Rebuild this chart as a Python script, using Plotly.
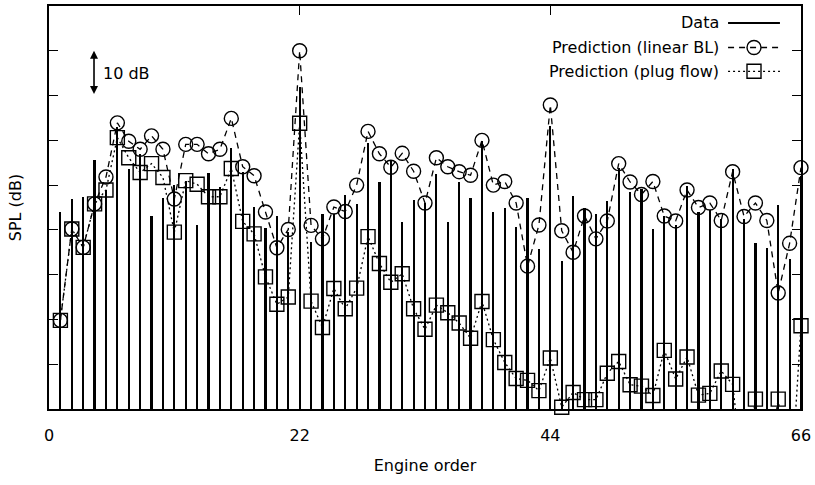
import plotly.graph_objects as go

# Engine orders 1..66
orders = list(range(1, 67))

# Measured SPL per engine order (dB, relative to bottom of axis)
data_spl = [
    43.9, 46.9, 47.4, 55.6, 49.0, 63.0, 53.6, 57.0, 43.2, 47.2,
    50.0, 51.0, 41.0, 52.6, 49.5, 58.2, 53.0, 45.2, 40.5, 43.0,
    39.5, 72.0, 37.2, 43.5, 43.5, 47.9, 45.8, 59.5, 50.6, 55.4,
    41.7, 46.7, 46.0, 52.4, 41.7, 50.7, 47.2, 59.8, 44.0, 45.0,
    40.7, 47.1, 35.7, 63.1, 33.0, 47.6, 44.9, 43.5, 46.4, 53.9,
    48.5, 49.2, 40.2, 43.1, 41.0, 49.8, 44.0, 44.5, 42.5, 53.5,
    42.5, 37.0, 36.0, 45.5, 33.6, 52.0,
]

# Prediction with linear boundary layer
bl_spl = [
    19.8, 40.2, 36.1, 45.8, 51.8, 63.9, 59.8, 58.0, 61.0, 58.0,
    46.9, 59.1, 59.1, 57.0, 58.0, 64.9, 54.1, 52.1, 44.0, 36.0,
    40.1, 80.0, 41.0, 38.0, 45.1, 44.1, 50.0, 62.0, 57.0, 54.0,
    57.1, 53.1, 46.0, 56.1, 54.1, 53.0, 52.2, 60.0, 50.0, 50.8,
    46.0, 31.9, 41.1, 67.9, 39.8, 35.0, 43.1, 38.0, 42.0, 54.8,
    50.7, 47.9, 50.8, 43.1, 42.0, 48.9, 45.0, 46.0, 42.1, 53.0,
    43.0, 46.0, 42.1, 25.9, 37.0, 53.9,
]

# Prediction with plug flow
plug_spl = [
    19.8, 40.2, 36.1, 45.8, 48.9, 60.6, 56.1, 52.8, 54.8, 51.7,
    39.5, 51.0, 50.2, 47.4, 47.4, 53.7, 41.9, 39.1, 29.5, 23.4,
    25.0, 63.8, 24.1, 18.2, 26.9, 22.4, 27.0, 38.5, 32.5, 28.3,
    30.2, 22.4, 17.8, 23.2, 21.5, 19.2, 15.8, 24.0, 15.5, 10.4,
    6.8, 6.4, 4.1, 11.4, 0.4, 3.7, 2.1, 2.1, 8.0, 10.6,
    5.4, 5.1, 3.0, 13.1, 6.7, 11.6, 3.1, 3.5, 8.5, 5.5,
    -17.0, 2.2, -15.0, 2.2, -22.0, 18.6,
]

x_ticks = [0, 22, 44, 66]
x_range = [0, 66]
y_range = [0, 90]
y_ticks = list(range(0, 91, 10))

FONT = "DejaVu Sans"
FS = 16


def in_range(xs, ys):
    """Keep only the points that sit inside the vertical axis range."""
    kept = [(a, b) for a, b in zip(xs, ys) if y_range[0] <= b <= y_range[1]]
    return [a for a, _ in kept], [b for _, b in kept]


fig = go.Figure()

# Measured spectrum as thin vertical bars
fig.add_trace(go.Bar(
    x=orders, y=data_spl, width=0.19,
    marker=dict(color="black", line=dict(width=0)),
    showlegend=False,
))

# Linear BL prediction: dashed connecting line + open circles
fig.add_trace(go.Scatter(
    x=orders, y=bl_spl, mode="lines",
    line=dict(color="black", width=1.3, dash="6px,5px"),
    showlegend=False,
))
bx, by = in_range(orders, bl_spl)
fig.add_trace(go.Scatter(
    x=bx, y=by, mode="markers", cliponaxis=False,
    marker=dict(symbol="circle-open", size=14, color="black",
                line=dict(width=1.4, color="black")),
    showlegend=False,
))

# Plug-flow prediction: dotted connecting line + open squares
fig.add_trace(go.Scatter(
    x=orders, y=plug_spl, mode="lines",
    line=dict(color="black", width=1.3, dash="2px,3px"),
    showlegend=False,
))
px_, py_ = in_range(orders, plug_spl)
fig.add_trace(go.Scatter(
    x=px_, y=py_, mode="markers", cliponaxis=False,
    marker=dict(symbol="square-open", size=14, color="black",
                line=dict(width=1.4, color="black")),
    showlegend=False,
))

# Key: right-aligned labels with line samples to their right
key_rows = [
    ("Data", dict(color="black", width=2), None, 0.958),
    ("Prediction (linear BL)", dict(color="black", width=1.3, dash="6px,5px"), "circle-open", 0.897),
    ("Prediction (plug flow)", dict(color="black", width=1.3, dash="2px,3px"), "square-open", 0.838),
]
x_text = 0.893
x_s0, x_s1 = 0.903, 0.972
for label, ln, sym, yy in key_rows:
    fig.add_annotation(
        xref="paper", yref="paper", x=x_text, y=yy, text=label,
        showarrow=False, xanchor="right", yanchor="middle",
        font=dict(family=FONT, size=FS, color="black"),
    )
    fig.add_trace(go.Scatter(
        x=[x_s0, (x_s0 + x_s1) / 2, x_s1], y=[yy, yy, yy],
        xaxis="x2", yaxis="y2", mode="lines", line=ln,
        showlegend=False, hoverinfo="skip",
    ))
    if sym:
        fig.add_trace(go.Scatter(
            x=[(x_s0 + x_s1) / 2], y=[yy], xaxis="x2", yaxis="y2",
            mode="markers", cliponaxis=False,
            marker=dict(symbol=sym, size=14, color="black",
                        line=dict(width=1.4, color="black")),
            showlegend=False, hoverinfo="skip",
        ))

# 10 dB scale arrow
fig.add_annotation(
    x=3.95, y=80, ax=3.95, ay=70, xref="x", yref="y", axref="x", ayref="y",
    text="", showarrow=True, arrowhead=2, arrowside="end+start",
    arrowsize=1.0, arrowwidth=1.6, arrowcolor="black",
)
fig.add_annotation(
    x=4.6, y=75, xref="x", yref="y", text="10 dB", showarrow=False,
    xanchor="left", yanchor="middle",
    font=dict(family=FONT, size=FS, color="black"),
)

fig.update_layout(
    width=815, height=485,
    margin=dict(l=49, r=13, t=4, b=76),
    plot_bgcolor="white", paper_bgcolor="white",
    bargap=0, barmode="overlay",
    font=dict(family=FONT, size=FS, color="black"),
    xaxis=dict(
        range=x_range, tickvals=x_ticks, ticks="inside", ticklen=9,
        tickwidth=1.2, tickcolor="black",
        showline=True, mirror="ticks", linecolor="black", linewidth=1.5,
        showgrid=False, zeroline=False, ticklabelstandoff=11,
        tickfont=dict(family=FONT, size=FS, color="black"),
        title=dict(text="Engine order", standoff=16,
                   font=dict(family=FONT, size=FS, color="black")),
    ),
    yaxis=dict(
        range=y_range, tickvals=y_ticks, ticks="inside", ticklen=9,
        tickwidth=1.2, tickcolor="black", showticklabels=False,
        showline=True, mirror="ticks", linecolor="black", linewidth=1.5,
        showgrid=False, zeroline=False,
        title=dict(text="SPL (dB)", standoff=22,
                   font=dict(family=FONT, size=FS, color="black")),
    ),
    xaxis2=dict(overlaying="x", range=[0, 1], visible=False, fixedrange=True),
    yaxis2=dict(overlaying="y", range=[0, 1], visible=False, fixedrange=True),
)

fig.write_html("out.html")
